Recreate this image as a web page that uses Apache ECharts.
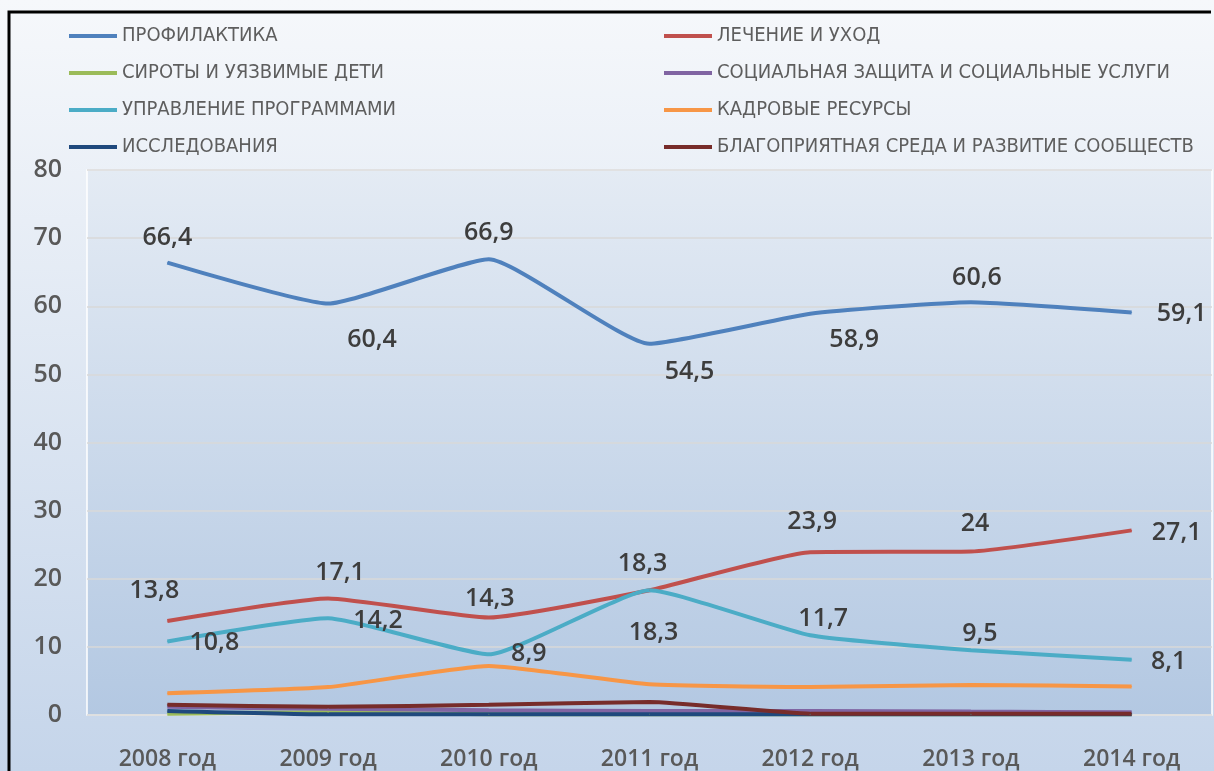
<!DOCTYPE html>
<html lang="ru">
<head>
<meta charset="UTF-8">
<title>Chart</title>
<style>
  html, body { margin: 0; padding: 0; background: #fff; }
  #chart { width: 1214px; height: 771px; }
</style>
</head>
<body>
<div id="chart"></div>
<script src="https://cdn.jsdelivr.net/npm/echarts@6/dist/echarts.min.js"></script>
<script>
// данные (млн долл.)
var years = ['2008 год', '2009 год', '2010 год', '2011 год', '2012 год', '2013 год', '2014 год'];
var yTicks = [0, 10, 20, 30, 40, 50, 60, 70, 80];

var prevention = [66.4, 60.4, 66.9, 54.5, 58.9, 60.6, 59.1];
var treatment = [13.8, 17.1, 14.3, 18.3, 23.9, 24, 27.1];
var orphans = [0.2, 0.4, 0.1, 0.1, 0.1, 0.1, 0.1];
var socialProtection = [1.2, 0.9, 0.7, 0.6, 0.6, 0.5, 0.4];
var programManagement = [10.8, 14.2, 8.9, 18.3, 11.7, 9.5, 8.1];
var humanResources = [3.2, 4.1, 7.2, 4.5, 4.1, 4.4, 4.2];
var research = [0.6, 0.1, 0.1, 0.1, 0.1, 0.1, 0.1];
var environment = [1.5, 1.2, 1.5, 1.9, 0.2, 0.2, 0.2];

// смещения подписей от точки (только оформление)
var prevOffsets = [[0, -25], [44, 36], [0, -26], [40, 28], [44, 26], [6, -24], [50, 1]];
var treatOffsets = [[-13, -30], [12, -26], [1, -19], [-7, -26], [2, -30], [4, -28], [45, 2]];
var progOffsets = [[47, 1], [50, 3], [40, 0], [4, 43], [13, -16], [9, -16], [37, 2]];

function withLabels(values, offsets) {
    return values.map(function (v, i) {
        return {
            value: v,
            label: {
                show: true,
                position: 'inside',
                offset: offsets[i],
                formatter: String(v).replace('.', ','),
                fontFamily: 'Open Sans',
                fontWeight: 600,
                fontSize: 25,
                color: '#3d3d3d'
            }
        };
    });
}

function lineSeries(name, color, data) {
    return {
        name: name,
        type: 'line',
        data: data,
        smooth: 0.15,
        symbol: 'circle',
        symbolSize: 1,
        itemStyle: { color: color },
        lineStyle: { color: color, width: 4 },
        emphasis: { disabled: true },
        animation: false
    };
}

var chart = echarts.init(document.getElementById('chart'));

var legendText = {
    fontFamily: 'Liberation Sans Narrow, DejaVu Sans Condensed, sans-serif',
    fontSize: 20,
    lineHeight: 20,
    color: '#5e5e5e'
};

option = {
    backgroundColor: new echarts.graphic.LinearGradient(0, 0, 0, 1, [
        { offset: 0, color: '#f6f8fb' },
        { offset: 1, color: '#c5d5ea' }
    ]),
    legend: [{
        orient: 'vertical',
        left: 64,
        top: 21,
        itemWidth: 48,
        itemHeight: 4,
        itemGap: 17,
        icon: 'rect',
        selectedMode: false,
        textStyle: legendText,
        data: ['ПРОФИЛАКТИКА', 'СИРОТЫ И УЯЗВИМЫЕ ДЕТИ', 'УПРАВЛЕНИЕ ПРОГРАММАМИ', 'ИССЛЕДОВАНИЯ']
    }, {
        orient: 'vertical',
        left: 659,
        top: 21,
        itemWidth: 48,
        itemHeight: 4,
        itemGap: 17,
        icon: 'rect',
        selectedMode: false,
        textStyle: legendText,
        data: ['ЛЕЧЕНИЕ И УХОД', 'СОЦИАЛЬНАЯ ЗАЩИТА И СОЦИАЛЬНЫЕ УСЛУГИ', 'КАДРОВЫЕ РЕСУРСЫ', 'БЛАГОПРИЯТНАЯ СРЕДА И РАЗВИТИЕ СООБЩЕСТВ']
    }],
    grid: {
        left: 87,
        right: 2,
        top: 170,
        bottom: 54,
        show: true,
        borderColor: '#ffffff',
        borderWidth: 1.5,
        backgroundColor: new echarts.graphic.LinearGradient(0, 0, 0, 1, [
            { offset: 0, color: '#e4ebf4' },
            { offset: 1, color: '#b3c8e2' }
        ])
    },
    xAxis: {
        type: 'category',
        data: years,
        boundaryGap: true,
        axisLine: { show: false },
        axisTick: { show: false },
        axisLabel: {
            interval: 0,
            margin: 33,
            fontFamily: 'Open Sans',
            fontWeight: 600,
            fontSize: 23,
            color: '#595959'
        }
    },
    yAxis: {
        type: 'value',
        min: yTicks[0],
        max: yTicks[yTicks.length - 1],
        interval: 10,
        axisLine: { show: false },
        axisTick: { show: false },
        splitLine: { lineStyle: { color: '#d9d9d9', width: 1.5 } },
        axisLabel: {
            margin: 25,
            fontFamily: 'Open Sans',
            fontWeight: 600,
            fontSize: 25,
            color: '#595959'
        }
    },
    graphic: [{
        type: 'polyline',
        shape: { points: [[9, 771], [9, 12], [1211, 12]] },
        style: { stroke: '#000', lineWidth: 3, fill: null },
        z: 100
    }],
    series: [
        lineSeries('ПРОФИЛАКТИКА', '#4f81bd', withLabels(prevention, prevOffsets)),
        lineSeries('ЛЕЧЕНИЕ И УХОД', '#c0504d', withLabels(treatment, treatOffsets)),
        lineSeries('СИРОТЫ И УЯЗВИМЫЕ ДЕТИ', '#9bbb59', orphans),
        lineSeries('СОЦИАЛЬНАЯ ЗАЩИТА И СОЦИАЛЬНЫЕ УСЛУГИ', '#8064a2', socialProtection),
        lineSeries('УПРАВЛЕНИЕ ПРОГРАММАМИ', '#4bacc6', withLabels(programManagement, progOffsets)),
        lineSeries('КАДРОВЫЕ РЕСУРСЫ', '#f79646', humanResources),
        lineSeries('ИССЛЕДОВАНИЯ', '#1f497d', research),
        lineSeries('БЛАГОПРИЯТНАЯ СРЕДА И РАЗВИТИЕ СООБЩЕСТВ', '#772c2a', environment)
    ]
};

chart.setOption(option, true);
</script>
</body>
</html>
